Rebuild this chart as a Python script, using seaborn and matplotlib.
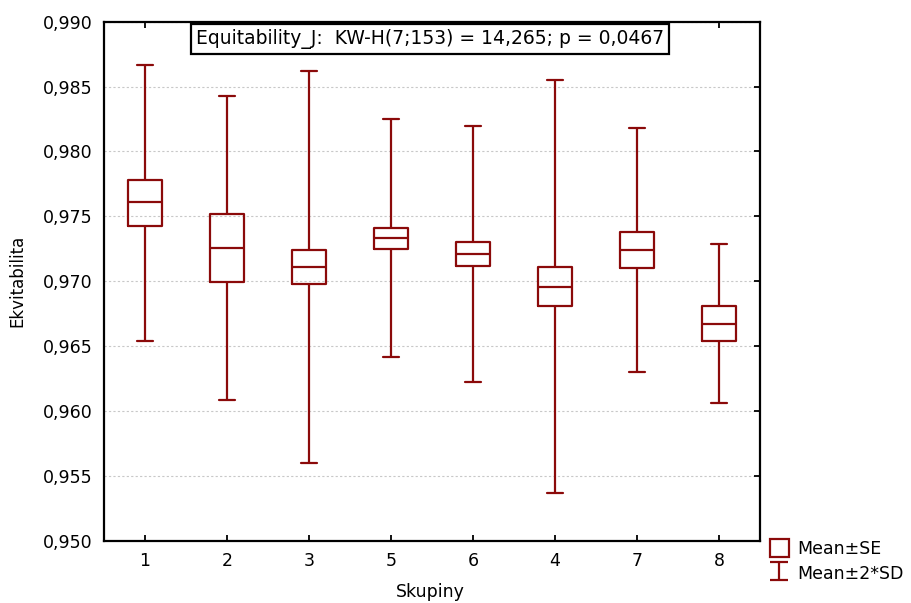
import matplotlib
matplotlib.use('Agg')
import matplotlib.pyplot as plt
import seaborn as sns
import pandas as pd
import numpy as np
from matplotlib.patches import Patch
from matplotlib.lines import Line2D
from matplotlib.path import Path
from matplotlib.ticker import MultipleLocator, FuncFormatter

# groups in the order they appear on the x axis
groups = ['1', '2', '3', '5', '6', '4', '7', '8']

# values: mean-2*SD, mean-SE, mean, mean+SE, mean+2*SD
whisker_low = [0.96543, 0.96086, 0.95600, 0.96417, 0.96224, 0.95364, 0.96301, 0.96063]
box_low = [0.97429, 0.96995, 0.96977, 0.97251, 0.97120, 0.96810, 0.97105, 0.96538]
means = [0.97609, 0.97259, 0.97110, 0.97334, 0.97213, 0.96958, 0.97244, 0.96673]
box_high = [0.97780, 0.97521, 0.97244, 0.97411, 0.97303, 0.97110, 0.97378, 0.96810]
whisker_high = [0.98669, 0.98430, 0.98618, 0.98250, 0.98199, 0.98551, 0.98181, 0.97285]

annot = 'Equitability_J:  KW-H(7;153) = 14,265; p = 0,0467'

# long form table, five stat points per group
df = pd.DataFrame({
    'Skupiny': np.repeat(groups, 5),
    'Ekvitabilita': np.column_stack([whisker_low, box_low, means, box_high, whisker_high]).ravel(),
})

sns.set_style('white')
plt.rcParams['font.family'] = ['DejaVu Sans']
plt.rcParams['text.color'] = 'black'
plt.rcParams['axes.labelcolor'] = 'black'
plt.rcParams['xtick.color'] = 'black'
plt.rcParams['ytick.color'] = 'black'
red = '#8b0a0a'

fig = plt.figure(figsize=(9.11, 6.03), dpi=100)
ax = fig.add_axes([0.1142, 0.1033, 0.7201, 0.8607])

sns.boxplot(data=df, x='Skupiny', y='Ekvitabilita', order=groups, whis=(0, 100),
            width=0.41, fill=False, color=red, linewidth=1.6, ax=ax)

ax.set_xlim(-0.5, 7.5)
ax.set_ylim(0.950, 0.990)
ax.yaxis.set_major_locator(MultipleLocator(0.005))
ax.yaxis.set_major_formatter(FuncFormatter(lambda v, p: f'{v:.3f}'.replace('.', ',')))
ax.yaxis.grid(True, linestyle=(0, (2, 2)), color='#c8c8c8', linewidth=0.8)
ax.set_axisbelow(True)

for s in ax.spines.values():
    s.set_visible(True)
    s.set_color('black')
    s.set_linewidth(1.6)

ax.tick_params(axis='x', direction='in', top=True, bottom=True, length=4, width=1.3,
               labelsize=12.5, pad=8, colors='black')
ax.tick_params(axis='y', direction='in', left=False, right=True, length=4, width=1.3,
               labelsize=12.5, pad=8, colors='black')

ax.set_xlabel('Skupiny', fontsize=12.5, color='black')
ax.xaxis.set_label_coords(0.497, -0.082)
ax.set_ylabel('Ekvitabilita', fontsize=12, color='black')
ax.yaxis.set_label_coords(-0.119, 0.5)

ax.text(0.497, 0.966, annot, transform=ax.transAxes, ha='center', va='center',
        fontsize=13.5, color='black',
        bbox=dict(boxstyle='square,pad=0.27', fc='white', ec='black', lw=1.6))

# legend handles
i_path = Path([(-1, 1), (1, 1), (0, 1), (0, -1), (-1, -1), (1, -1)],
              [Path.MOVETO, Path.LINETO, Path.MOVETO, Path.LINETO, Path.MOVETO, Path.LINETO])
handles = [
    Patch(facecolor='white', edgecolor=red, linewidth=1.6, label='Mean±SE'),
    Line2D([], [], linestyle='none', marker=i_path, markersize=13, markeredgewidth=1.6,
           markeredgecolor=red, markerfacecolor='none', label='Mean±2*SD'),
]
fig.legend(handles=handles, loc='upper left', bbox_to_anchor=(0.845, 0.106),
           frameon=False, fontsize=12.5, handlelength=1.1, handleheight=1.2,
           handletextpad=0.5, borderpad=0, borderaxespad=0, labelspacing=0.35,
           labelcolor='black')

plt.savefig('out.png', dpi=100)
